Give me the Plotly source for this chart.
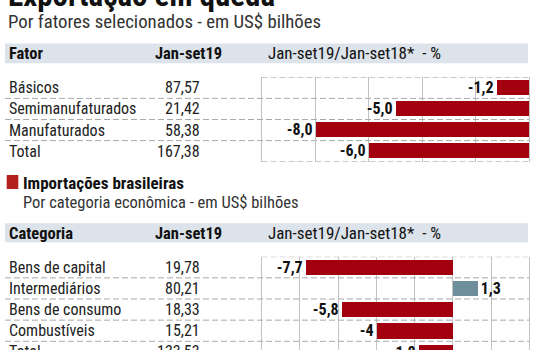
import plotly.graph_objects as go

# ---------------- data ----------------
title = "Exportação em queda"
subtitle_exp = "Por fatores selecionados - em US$ bilhões"
exp_cats = ["Básicos", "Semimanufaturados", "Manufaturados", "Total"]
exp_vals = [87.57, 21.42, 58.38, 167.38]
exp_var = [-1.2, -5.0, -8.0, -6.0]

title_imp = "Importações brasileiras"
subtitle_imp = "Por categoria econômica - em US$ bilhões"
imp_cats = ["Bens de capital", "Intermediários", "Bens de consumo", "Combustíveis", "Total"]
imp_vals = [19.78, 80.21, 18.33, 15.21, 133.53]
imp_var = [-7.7, 1.3, -5.8, -4.0, -1.8]

hdr_col1 = ["Fator", "Categoria"]
hdr_col2 = "Jan-set19"
hdr_col3 = "Jan-set19/Jan-set18*\u00a0\u00a0- %"

# ---------------- style ----------------
W, H = 540, 350
FONT = "Liberation Sans Narrow, Roboto Condensed, Arial Narrow, Liberation Sans, sans-serif"
RED = "#a3000f"
BLUE = "#6f8e9b"
GRID = "#c2c2c2"
DASH = "#a9a9a9"
BAND = "#dde3ea"


def px(x):
    return x / W


def py(y):
    return 1 - y / H


def br(v):
    return f"{v:.2f}".replace(".", ",")


def lab1(v):
    return f"{v:.1f}".replace(".", ",")


def lab2(v):
    return f"{v:g}".replace(".", ",")


fig = go.Figure()

fig.add_trace(go.Bar(
    x=exp_var, y=exp_cats, orientation="h", xaxis="x", yaxis="y",
    marker=dict(color=[RED if v < 0 else BLUE for v in exp_var], line=dict(width=0)),
    width=0.72, text=[lab1(v) for v in exp_var], textposition="outside",
    textfont=dict(family=FONT, size=16, color="#111", weight="bold"),
    constraintext="none", cliponaxis=False, hoverinfo="skip",
))
fig.add_trace(go.Bar(
    x=imp_var, y=imp_cats, orientation="h", xaxis="x2", yaxis="y2",
    marker=dict(color=[RED if v < 0 else BLUE for v in imp_var], line=dict(width=0)),
    width=0.72, text=[lab2(v) for v in imp_var], textposition="outside",
    textfont=dict(family=FONT, size=16, color="#111", weight="bold"),
    constraintext="none", cliponaxis=True, hoverinfo="skip",
))

# chart geometry (pixels)
c1_top, c1_bot = 77.3, 161.7
c2_top, row_h = 256.7, 21.15
c2_rows_visible = (H - c2_top) / row_h

axis_common = dict(showticklabels=False, ticks="", zeroline=False, fixedrange=True)

fig.update_layout(
    width=W, height=H, margin=dict(l=0, r=0, t=0, b=0),
    paper_bgcolor="white", plot_bgcolor="white", showlegend=False,
    bargap=0,
    font=dict(family=FONT, color="#222"),
    xaxis=dict(domain=[px(261.5), px(529)], range=[-10, 0], dtick=2, tick0=0,
               showgrid=True, gridcolor=GRID, gridwidth=1, anchor="y", **axis_common),
    yaxis=dict(domain=[py(c1_bot), py(c1_top)], type="category",
               categoryorder="array", categoryarray=exp_cats,
               range=[3.5, -0.5], showgrid=False, showline=True, mirror=True,
               linecolor=GRID, linewidth=1, anchor="x", **axis_common),
    xaxis2=dict(domain=[px(261.7), px(529.3)], range=[-10, 4], dtick=2, tick0=0,
                showgrid=True, gridcolor=GRID, gridwidth=1, anchor="y2", **axis_common),
    yaxis2=dict(domain=[0, py(c2_top)], type="category",
                categoryorder="array", categoryarray=imp_cats,
                range=[-0.5 + c2_rows_visible, -0.5], showgrid=False, showline=True,
                mirror=True, linecolor=GRID, linewidth=1, anchor="x2", **axis_common),
)

shapes = []
# header bands
for (y0, y1) in [(43.5, 63.3), (223.3, 242.3)]:
    shapes.append(dict(type="rect", xref="paper", yref="paper",
                       x0=px(5), x1=px(528), y0=py(y1), y1=py(y0),
                       fillcolor=BAND, line=dict(width=0), layer="below"))
# red square marker for imports
shapes.append(dict(type="rect", xref="paper", yref="paper",
                   x0=px(6.7), x1=px(18.3), y0=py(189), y1=py(175),
                   fillcolor="#b3211e", line=dict(width=0)))

dash_line = dict(color=DASH, width=1, dash="6px,3px")
# chart 1 dashed row separators
for i in range(len(exp_cats) + 1):
    yv = i - 0.5
    x0 = px(261.5) if i in (0, len(exp_cats)) else px(5)
    shapes.append(dict(type="line", xref="paper", yref="y", x0=x0, x1=px(529),
                       y0=yv, y1=yv, line=dash_line))
# chart 2 dashed row separators
for i in range(len(imp_cats)):
    yv = i - 0.5
    x0 = px(261.7) if i == 0 else px(5)
    shapes.append(dict(type="line", xref="paper", yref="y2", x0=x0, x1=px(529.3),
                       y0=yv, y1=yv, line=dash_line))
fig.update_layout(shapes=shapes)

ann = []


def add_text(text, x, y, size, xanchor="left", bold=False, color="#222", yref="paper", yval=None):
    ann.append(dict(text=text, xref="paper", x=x, yref=yref,
                    y=yval if yval is not None else py(y),
                    xanchor=xanchor, yanchor="middle", showarrow=False,
                    font=dict(family=FONT, size=size, color=color,
                              weight="bold" if bold else "normal")))


# titles
add_text(title, px(6), -4.5, 31, bold=True, color="#111")
add_text(subtitle_exp, px(6), 22, 18.8, color="#333")
add_text(title_imp, px(21), 182.5, 17, bold=True, color="#111")
add_text(subtitle_imp, px(21), 202, 16.5, color="#333")

# headers
for hy, h1 in zip([53.5, 233], hdr_col1):
    add_text(h1, px(6.5), hy, 16.5, bold=True, color="#111")
    add_text(hdr_col2, px(153), hy, 16.5, bold=True, color="#111")
    add_text(hdr_col3, px(266), hy, 17, color="#111")

# table rows
for c, v in zip(exp_cats, exp_vals):
    add_text(c, px(6.5), 0, 16, yref="y", yval=c)
    add_text(br(v), px(202), 0, 16, xanchor="right", yref="y", yval=c)
# import rows: positioned by row geometry (last row runs off the page edge)
for i, (c, v) in enumerate(zip(imp_cats, imp_vals)):
    yc = c2_top + row_h * (i + 0.5)
    add_text(c, px(6.5), yc, 16)
    add_text(br(v), px(202), yc, 16, xanchor="right")

fig.update_layout(annotations=ann)

fig.write_html("out.html")
